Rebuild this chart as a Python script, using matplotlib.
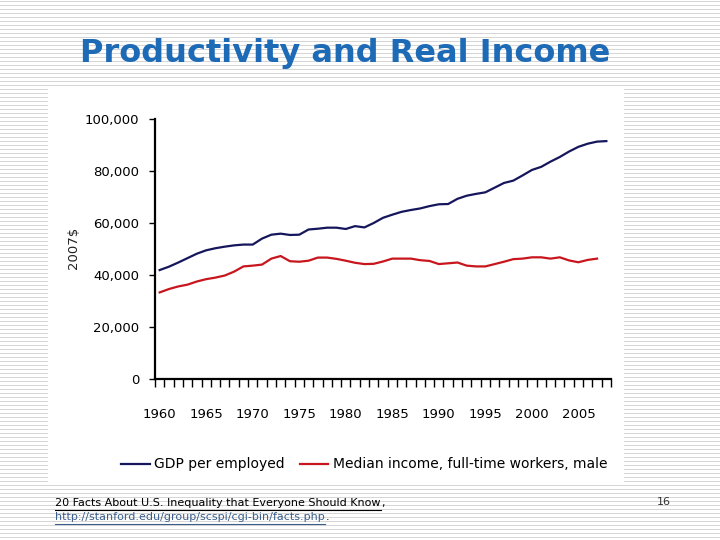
import matplotlib
matplotlib.use('Agg')
import matplotlib.pyplot as plt
import numpy as np
from matplotlib.lines import Line2D
from matplotlib.patches import Rectangle
from matplotlib.ticker import FuncFormatter

# ---- data ----
years_gdp = list(range(1960, 2009))
gdp_per_employed = [41900, 43200, 44800, 46500, 48200, 49500, 50300, 50900, 51400, 51700,
                    51700, 54000, 55500, 55900, 55400, 55500, 57500, 57800, 58200, 58200,
                    57700, 58800, 58300, 60000, 62000, 63200, 64300, 65000, 65600, 66500,
                    67200, 67300, 69300, 70500, 71200, 71800, 73600, 75400, 76300, 78300,
                    80400, 81600, 83600, 85400, 87500, 89300, 90500, 91300, 91500]
years_inc = list(range(1960, 2008))
median_income_male = [33300, 34600, 35600, 36300, 37500, 38400, 39000, 39800, 41300, 43300,
                      43600, 44000, 46300, 47300, 45300, 45100, 45500, 46700, 46700, 46200,
                      45500, 44700, 44200, 44300, 45200, 46300, 46300, 46300, 45700, 45400,
                      44200, 44500, 44800, 43600, 43300, 43300, 44200, 45100, 46100, 46300,
                      46800, 46800, 46300, 46800, 45600, 44900, 45800, 46300]
y_ticks = [0, 20000, 40000, 60000, 80000, 100000]
x_label_years = list(range(1960, 2006, 5))

title = "Productivity and Real Income"
series_names = ["GDP per employed", "Median income, full-time workers, male"]
y_label = "2007$"
foot1 = "20 Facts About U.S. Inequality that Everyone Should Know"
foot2 = "http://stanford.edu/group/scspi/cgi-bin/facts.php"
page = "16"

W, H = 720, 540
fig = plt.figure(figsize=(7.2, 5.4), dpi=100)

def fx(px):
    return px / W

def fy(py):
    return 1 - py / H

# background stripes + white panel
bg = fig.add_axes([0, 0, 1, 1], zorder=-10)
stripes = np.ones((H, 1, 3))
stripes[1::4] = 0.84
bg.imshow(stripes, aspect='auto', extent=[0, W, H, 0], interpolation='nearest')
bg.add_patch(Rectangle((48, 87), 624 - 48, 483 - 87, facecolor='white', edgecolor='none'))
bg.set_xlim(0, W)
bg.set_ylim(H, 0)
bg.axis('off')

# title
fig.text(fx(345), fy(62), title, ha='center', va='baseline', fontsize=23,
         fontweight='bold', color='#1d6ab6')

# main axes
ax = fig.add_axes([fx(155), fy(379), fx(611) - fx(155), fy(119) - fy(379)])
ax.patch.set_alpha(0)
blue = '#16165c'
red = '#c8161e'
ax.plot(years_gdp, gdp_per_employed, color=blue, lw=1.6)
ax.plot(years_inc, median_income_male, color=red, lw=1.6)
ax.set_xlim(1959.5, 2008.5)
ax.set_ylim(0, 100000)
for s in ['top', 'right']:
    ax.spines[s].set_visible(False)
for s in ['left', 'bottom']:
    ax.spines[s].set_linewidth(1.6)
    ax.spines[s].set_color('black')
ax.set_yticks(y_ticks)
ax.yaxis.set_major_formatter(FuncFormatter(lambda v, p: f"{int(v):,}"))
ax.set_xticks(x_label_years)
ax.set_xticks(np.arange(1959.5, 2009, 1), minor=True)
ax.tick_params(axis='x', which='major', length=0, pad=21, labelsize=9.5)
ax.tick_params(axis='x', which='minor', length=6, width=1, direction='out')
ax.tick_params(axis='y', length=4.5, width=1, pad=7, labelsize=9.5)

fig.text(fx(73), fy(248), y_label, rotation=90, ha='center', va='center',
         fontsize=9.5, color='#222222')

# legend (manual)
ly = fy(464)
fig.add_artist(Line2D([fx(121), fx(150)], [ly, ly], color=blue, lw=1.6))
fig.text(fx(154), ly, series_names[0], ha='left', va='center', fontsize=10)
fig.add_artist(Line2D([fx(300), fx(328)], [ly, ly], color=red, lw=1.6))
fig.text(fx(333), ly, series_names[1], ha='left', va='center', fontsize=10)

# footnotes
t1 = fig.text(fx(55), fy(503), foot1, ha='left', va='center', fontsize=8, color='black')
t2 = fig.text(fx(55), fy(517), foot2, ha='left', va='center', fontsize=8, color='#3b5f8c')
fig.text(fx(657), fy(502), page, ha='left', va='center', fontsize=8, color='#333333')

fig.canvas.draw()
r = fig.canvas.get_renderer()
for t, col, yline in [(t1, 'black', 509.5), (t2, '#3b5f8c', 523.5)]:
    bb = t.get_window_extent(renderer=r)
    x0, x1 = bb.x0 / W, bb.x1 / W
    fig.add_artist(Line2D([x0, x1], [fy(yline), fy(yline)], color=col, lw=0.8))
    endc = ',' if t is t1 else '.'
    fig.text(x1 + 1 / W, t.get_position()[1], endc, ha='left', va='center', fontsize=8,
             color='black')

fig.savefig('out.png', dpi=100)
